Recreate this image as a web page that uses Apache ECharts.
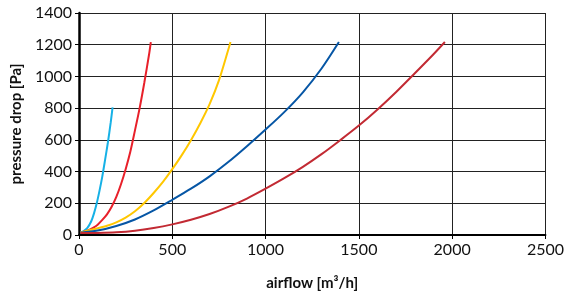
<!DOCTYPE html>
<html>
<head>
<meta charset="utf-8">
<script src="https://cdn.jsdelivr.net/npm/echarts@6/dist/echarts.min.js"></script>
<style>
  html, body { margin: 0; padding: 0; background: #fff; }
  #chart { width: 567px; height: 298px; }
</style>
</head>
<body>
<div id="chart"></div>
<script>
// curves: [airflow m3/h, pressure drop Pa]
const cyanCurve = [[8,15],[25,25],[45,45],[65,85],[80,135],[95,200],[110,280],[125,370],[140,475],[155,585],[170,710],[180,805]];
const redCurve = [[8,15],[25,20],[50,30],[75,45],[100,65],[125,95],[150,130],[175,178],[200,240],[225,320],[250,415],[275,525],[300,660],[325,800],[350,960],[375,1135],[385,1217]];
const yellowCurve = [[8,15],[50,28],[100,42],[150,58],[200,80],[250,110],[300,150],[350,202],[400,265],[450,335],[500,415],[550,502],[600,598],[650,705],[700,825],[750,975],[800,1168],[812,1217]];
const blueCurve = [[8,15],[100,28],[200,57],[300,98],[400,155],[500,222],[600,292],[700,370],[800,460],[900,560],[1000,665],[1100,775],[1200,900],[1300,1050],[1393,1217]];
const darkRedCurve = [[8,12],[100,13],[200,17],[300,27],[400,44],[500,67],[600,96],[700,132],[800,177],[900,230],[1000,292],[1100,358],[1200,430],[1300,510],[1400,598],[1500,690],[1600,792],[1700,902],[1800,1020],[1900,1140],[1961,1217]];

const xTicks = [0, 500, 1000, 1500, 2000, 2500];
const yTicks = [0, 200, 400, 600, 800, 1000, 1200, 1400];

const curveColors = ['#16b1e6', '#e8202a', '#ffc700', '#0656a5', '#c22a33'];
const curves = [cyanCurve, redCurve, yellowCurve, blueCurve, darkRedCurve];

const font = '"Liberation Sans Narrow", Lato, sans-serif';

const chart = echarts.init(document.getElementById('chart'));

const gridLine = { show: true, lineStyle: { color: '#222', width: 1 } };

const option = {
  animation: false,
  grid: { left: 79, right: 21, top: 13, bottom: 63 },
  xAxis: {
    type: 'value',
    min: xTicks[0], max: xTicks[xTicks.length - 1], interval: xTicks[1] - xTicks[0],
    name: 'airflow [m³/h]',
    nameLocation: 'middle',
    nameGap: 41,
    nameTextStyle: { fontFamily: 'Lato', fontSize: 15, fontWeight: 'bold', color: '#111' },
    axisLine: { show: true, lineStyle: { color: '#000', width: 2 } },
    axisTick: { show: true, length: 4, lineStyle: { color: '#000' } },
    axisLabel: { fontFamily: font, fontSize: 16, color: '#111', margin: 7, formatter: v => String(v) },
    splitLine: gridLine
  },
  yAxis: {
    type: 'value',
    min: yTicks[0], max: yTicks[yTicks.length - 1], interval: yTicks[1] - yTicks[0],
    name: 'pressure drop [Pa]',
    nameLocation: 'middle',
    nameGap: 50,
    nameTextStyle: { fontFamily: 'Lato', fontSize: 15, fontWeight: 'bold', color: '#111' },
    axisLine: { show: true, lineStyle: { color: '#000', width: 2.5 } },
    axisTick: { show: true, length: 4, lineStyle: { color: '#000' } },
    axisLabel: { fontFamily: font, fontSize: 16, color: '#111', margin: 7, formatter: v => String(v) },
    splitLine: gridLine
  },
  series: curves.map((c, i) => ({
    type: 'line',
    data: c,
    smooth: 0.3,
    showSymbol: false,
    lineStyle: { color: curveColors[i], width: 2 },
    z: 3
  }))
};

chart.setOption(option);
</script>
</body>
</html>
